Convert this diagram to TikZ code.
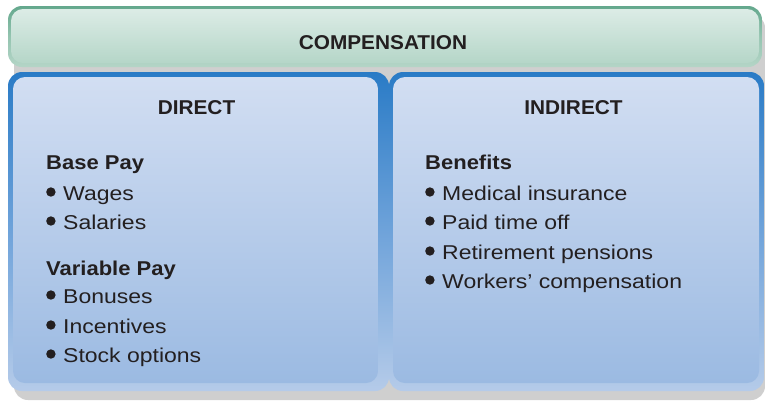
\documentclass[tikz,border=0pt]{standalone}
\usepackage{fontspec}
\setmainfont{Liberation Sans}
\newfontfamily\bodyfont[FakeStretch=1.15]{Liberation Sans}
\newfontfamily\headbodyfont[FakeStretch=1.1]{Liberation Sans}
\newfontfamily\headfont[FakeStretch=1.04]{Liberation Sans}
\definecolor{txt}{HTML}{231F20}
\definecolor{shadowgray}{HTML}{CFCFCF}
\definecolor{gtop}{HTML}{64A88D}
\definecolor{gmid}{HTML}{94C4B0}
\definecolor{gbot}{HTML}{B4D5C7}
\definecolor{gintop}{HTML}{DCECE6}
\definecolor{ginbot}{HTML}{B5D6C8}
\definecolor{btop}{HTML}{2A7BC6}
\definecolor{bmid}{HTML}{6FA3DA}
\definecolor{bbot}{HTML}{B5CBE9}
\definecolor{bintop}{HTML}{D2DEF2}
\definecolor{binbot}{HTML}{9BBAE2}
\newcommand\mybul{\tikz[baseline=0pt,x=1pt,y=1pt]{\path (0,0) rectangle (9.4,1);\fill[txt] (4.7,8.0) circle (4.7);}\hspace{7.6pt}}
\tikzset{
  title/.style={anchor=base, text=txt, inner sep=0pt, font=\headfont\bfseries\fontsize{20}{24}\selectfont},
  heading/.style={anchor=base west, text=txt, inner sep=0pt, font=\headbodyfont\bfseries\fontsize{20}{24}\selectfont},
  item/.style={anchor=base west, text=txt, inner sep=0pt, font=\bodyfont\fontsize{20}{24}\selectfont},
  greenouter/.style={rounded corners=14pt, top color=gtop, bottom color=gbot, middle color=gmid},
  greeninner/.style={rounded corners=12pt, top color=gintop, bottom color=ginbot},
  blueouter/.style={rounded corners=14pt, top color=btop, bottom color=bbot, middle color=bmid},
  blueinner/.style={rounded corners=12pt, top color=bintop, bottom color=binbot},
}
\begin{document}
\begin{tikzpicture}[x=1pt,y=-1pt]
\useasboundingbox (0,0) rectangle (765,400);
\fill[white] (0,0) rectangle (765,400);
% shadow
\fill[shadowgray, rounded corners=14pt] (14,14) rectangle (765,400);
% top box
\path[greenouter] (8,6) rectangle (762,67);
\path[greeninner] (11,9) rectangle (759,63);
% left box
\path[blueouter] (8,72) rectangle (389,391);
\path[blueinner] (13,77) rectangle (378,383);
% right box
\path[blueouter] (389,72) rectangle (764,391);
\path[blueinner] (393,77) rectangle (759,383);
% texts
\node[title] (comp) at (383,49) {COMPENSATION};
\node[title] (direct) at (196.5,114) {DIRECT};
\node[title] (indirect) at (573.5,114) {INDIRECT};
\node[heading] (base) at (46,169) {Base Pay};
\node[item] (wages) at (46,200) {\mybul Wages};
\node[item] (salaries) at (46,229) {\mybul Salaries};
\node[heading] (variable) at (46,275) {Variable Pay};
\node[item] (bonuses) at (46,303) {\mybul Bonuses};
\node[item] (incentives) at (46,333) {\mybul Incentives};
\node[item] (stock) at (46,362) {\mybul Stock options};
\node[heading] (benefits) at (425,169) {Benefits};
\node[item] (medical) at (425,200) {\mybul Medical insurance};
\node[item] (paid) at (425,229) {\mybul Paid time off};
\node[item] (retire) at (425,259) {\mybul Retirement pensions};
\node[item] (workers) at (425,288) {\mybul Workers’ compensation};
\end{tikzpicture}
\end{document}
